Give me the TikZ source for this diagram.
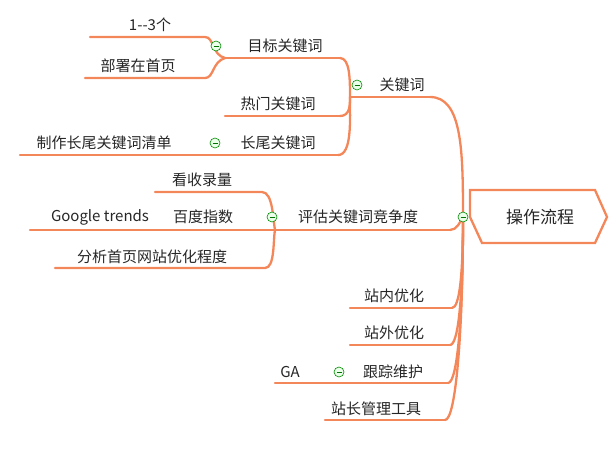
\documentclass[tikz,border=0pt]{standalone}
\usepackage{fontspec}
\setmainfont{Noto Sans CJK SC}
\begin{document}
\begin{tikzpicture}[x=1pt,y=-1pt,
  lbl/.style={font=\fontsize{15}{17}\selectfont,text=black!85,inner sep=0pt},
  tog/.style={circle,draw=green!55!black,fill=green!8,line width=0.6pt,minimum size=10pt,inner sep=0pt,
    path picture={\draw[green!45!black,line width=0.8pt] ([xshift=-2.5pt]path picture bounding box.center) -- ([xshift=2.5pt]path picture bounding box.center);}}]
\definecolor{orl}{HTML}{F4875A}
\tikzset{br/.style={draw=orl,line width=2.3pt,line cap=round}}
\useasboundingbox (0,0) rectangle (612,449);
% root
\draw[br,fill=white] (470,190) -- (595,190) -- (607,217) -- (595,243) -- (482,243) -- (470,217) -- cycle;
\node[lbl,font=\fontsize{17}{19}\selectfont] (root) at (540,217) {操作流程};
\coordinate (P0) at (463,217);
% level 1 underlines
\coordinate (kA) at (350,97); \coordinate (kB) at (430,97);
\coordinate (eA) at (275,230); \coordinate (eB) at (450,230);
\coordinate (nA) at (350,308); \coordinate (nB) at (452,308);
\coordinate (wA) at (350,345); \coordinate (wB) at (450,345);
\coordinate (gA) at (330,383); \coordinate (gB) at (448,383);
\coordinate (zA) at (325,420); \coordinate (zB) at (445,420);
\node[lbl] (k) at (402,85) {关键词};
\node[lbl] (e) at (358,217) {评估关键词竞争度};
\node[lbl] (n) at (394,296) {站内优化};
\node[lbl] (w) at (394,333) {站外优化};
\node[lbl] (g) at (393,372) {跟踪维护};
\node[lbl] (z) at (376,409) {站长管理工具};
\foreach \a/\b in {kA/kB,eA/eB,nA/nB,wA/wB,gA/gB,zA/zB} \draw[br] (\a) -- (\b);
\draw[br] (kB) .. controls (462,97) and (463,150) .. (P0);
\draw[br] (eB) .. controls (457,230) and (460,222) .. (P0);
\draw[br] (nB) .. controls (460,308) and (463,270) .. (P0);
\draw[br] (wB) .. controls (459,345) and (463,290) .. (P0);
\draw[br] (gB) .. controls (458,383) and (463,310) .. (P0);
\draw[br] (zB) .. controls (456,420) and (463,330) .. (P0);
% level 2 under 关键词
\coordinate (tA) at (225,58); \coordinate (tB) at (340,58);
\coordinate (hA) at (225,116); \coordinate (hB) at (340,116);
\coordinate (cA) at (225,155); \coordinate (cB) at (338,155);
\node[lbl] (t) at (285,46) {目标关键词};
\node[lbl] (h) at (278,104) {热门关键词};
\node[lbl] (c) at (278,143) {长尾关键词};
\foreach \a/\b in {tA/tB,hA/hB,cA/cB} \draw[br] (\a) -- (\b);
\draw[br] (tB) .. controls (350,58) and (350,80) .. (kA);
\draw[br] (hB) .. controls (350,116) and (350,105) .. (kA);
\draw[br] (cB) .. controls (352,155) and (350,120) .. (kA);
% level 3 under 目标
\coordinate (aA) at (90,37); \coordinate (aB) at (205,37);
\coordinate (bA) at (85,78); \coordinate (bB) at (205,78);
\node[lbl] (a) at (150,25) {1-{}-3个};
\node[lbl] (b) at (138,66) {部署在首页};
\draw[br] (aA) -- (aB) .. controls (214,37) and (212,55) .. (tA);
\draw[br] (bA) -- (bB) .. controls (214,78) and (212,62) .. (tA);
% under 长尾
\coordinate (lA) at (20,155); \coordinate (lB) at (205,155);
\node[lbl] (l) at (104,143) {制作长尾关键词清单};
\draw[br] (lA) -- (lB) -- (cA);
% under 评估
\coordinate (sA) at (155,192); \coordinate (sB) at (262,192);
\coordinate (dA) at (160,230); \coordinate (dB) at (268,230);
\coordinate (fA) at (55,268); \coordinate (fB) at (265,268);
\coordinate (oA) at (30,230);
\node[lbl] (s) at (202,180) {看收录量};
\node[lbl] (d) at (203,217) {百度指数};
\node[lbl] (o) at (100,217) {Google trends};
\node[lbl] (f) at (152,257) {分析首页网站优化程度};
\draw[br] (sA) -- (sB) .. controls (273,192) and (273,220) .. (eA);
\draw[br] (oA) -- (dA) -- (dB) -- (eA);
\draw[br] (fA) -- (fB) .. controls (275,268) and (273,240) .. (eA);
% under 跟踪
\coordinate (xA) at (275,383);
\node[lbl] (x) at (290,372) {GA};
\draw[br] (xA) -- (gA);
% toggles
\node[tog] at (357,85) {};
\node[tog] at (216,46) {};
\node[tog] at (215,143) {};
\node[tog] at (272,217) {};
\node[tog] at (339,372) {};
\node[tog] at (463,217) {};
\end{tikzpicture}
\end{document}
